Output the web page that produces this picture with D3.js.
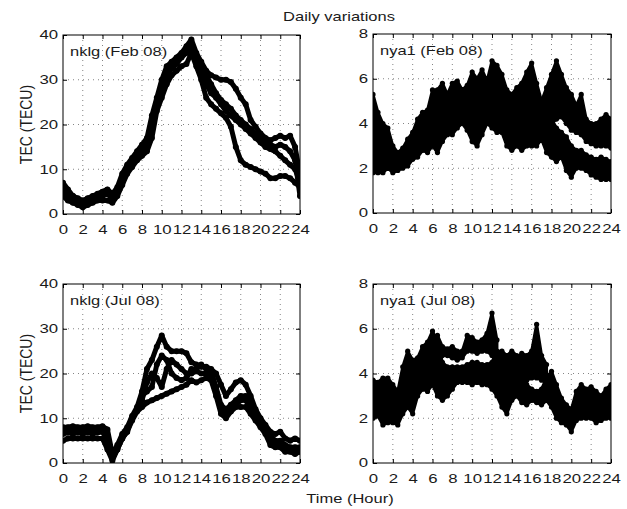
<!DOCTYPE html>
<html><head><meta charset="utf-8">
<script src="https://cdn.jsdelivr.net/npm/d3@7"></script>
<style>
body{margin:0;background:#fff}
svg{display:block}
text{font-family:"Liberation Sans",Arial,Helvetica,sans-serif;fill:#1a1a1a}
</style>
</head><body>
<svg id="c" width="627" height="509"></svg>
<script>
// ---- data ----
const hours = [0,0.5,1,1.5,2,2.5,3,3.5,4,4.5,5,5.5,6,6.5,7,7.5,8,8.5,9,9.5,10,10.5,11,11.5,12,12.5,13,13.5,14,14.5,15,15.5,16,16.5,17,17.5,18,18.5,19,19.5,20,20.5,21,21.5,22,22.5,23,23.5,24];
const xTicks = [0,2,4,6,8,10,12,14,16,18,20,22,24];
const nklgYTicks = [0,10,20,30,40];
const nyaYTicks = [0,2,4,6,8];
const panelLabels = ["nklg (Feb 08)", "nya1 (Feb 08)", "nklg (Jul 08)", "nya1 (Jul 08)"];

// nklg Feb 08 : individual days (TECU)
const nklgFebDay1 = [6,5,4,3.5,3,3.5,4,4.5,5,5.5,4.5,6,9,11,12.5,14,15.5,17,22,26,30,33,34,35,36,37.5,39,36,34,32,31,30.5,30,30,29.5,28,26,24.5,21,19.5,18,17,16.5,17,17.5,17,17.5,15,9];
const nklgFebDay2 = [4,3,2.5,2,1.5,2,2.5,3,3,3,2.5,4,6.5,9,10.5,12,13,14,17,23,26,29,31,32,33,33.5,36,33,30,26,24.5,23.5,22.5,21.5,19.5,15,12,11,10.5,10,9.5,9,8,8,8.5,8.5,8,7,6];
const nklgFebDay3 = [5,4,3,3,2.5,3,3.5,3.5,4,4.5,3.5,5,8,10,11.5,13,14.5,15.5,19,24,28,31,32.5,33.5,35,36,38,35,32,29,27,26,24.5,23,22,21,20,19,18,17,16,15,14.5,14,13,12,11,10,7];
const nklgFebDay4 = [7,5.5,4,3,2,2.5,3,4,4.5,5,3,4.5,7,9.5,11,12.5,14,16,20,25,29,32,33.5,34.5,35.5,37,37,34,32.5,31,29,27,25.5,24.5,23.5,22,21,20,19,18,17,16,15.5,15,15.5,15,14,12,4];

// nklg Jul 08 : individual days (TECU)
const nklgJulDay1 = [8,8,8.2,8,8,8.2,8,8,8.2,7.5,2,4,6.5,8,10.5,12.5,16,21,23,26,28.5,26,25,25,25,24.5,22.5,22,21.5,21.5,21,20,17.5,15,16.5,18,18.5,17.5,15,12,10,8.5,7,6.5,7,5.5,5,5.5,5];
const nklgJulDay2 = [5,5.5,5.5,5.5,5.5,5.5,5.5,5.5,5.5,3,0.5,3,5.5,7,9.5,11.5,12.5,13.5,14,14.5,15,15.5,16,16.5,17,17.5,18.5,18,18.5,19,18.5,15,11,10,11.5,12.5,12.5,12.5,11,9.5,8,6.5,4,3.5,3.5,2.5,2.5,2,2.5];
const nklgJulDay3 = [6.5,6.8,6.5,6.8,6.5,6.8,6.5,6.8,7,5,1.5,3.5,6,7.5,10,12,14,18,20,19,17,21,23,22,21,20,20,20.5,20,20,20.5,17,13,12,13,14,15,15,13,11,9,7.5,6,5,5,4,3.5,3.5,3.5];
const nklgJulDay4 = [7.5,7,7.5,7,7.5,7,7.5,7,7.5,6,1,3,5.5,7,10,12,15,16,17,22,24,23,20,19,18.5,19,21,21,22,21,19.5,16,12,11,12,13,14,14,12,10,8.5,7,5,4.5,4,3,3,3,3];

// nya1 Feb 08 : scatter bands (lower / upper edge of the dots)
const nyaFebLow1  = [1.8,1.8,1.8,2.0,1.8,1.9,2.0,2.1,2.4,2.5,2.8,2.7,3.0,2.7,3.2,3.5,3.5,3.8,4.0,3.7,3.2,3.0,3.5,4.0,3.8,3.6,3.6,3.0,2.8,3.0,2.8,3.0,3.0,3.0,3.3,2.7,2.5,2.3,2.5,1.9,1.6,2.0,2.0,1.9,1.7,1.6,1.5,1.5,1.5];
const nyaFebHigh1 = [5.3,4.5,4.0,3.8,3.0,2.7,2.9,3.3,3.6,4.2,4.5,4.6,5.5,5.5,5.8,5.3,5.8,5.9,5.5,5.7,6.3,6.0,6.4,5.9,6.8,6.6,6.2,5.5,5.3,5.6,5.8,6.3,6.7,5.8,5.0,4.6,4.2,3.8,3.6,3.4,3.0,2.8,2.8,2.6,2.5,2.4,2.5,2.4,2.3];
const nyaFebLow2  = [null,null,null,null,null,null,null,null,null,null,null,null,null,null,null,null,null,null,null,null,null,null,null,null,null,null,null,null,null,null,null,null,null,null,3.6,3.8,4.0,4.2,4.3,4.0,3.7,3.6,3.5,3.2,3.1,3.0,3.0,3.0,2.9];
const nyaFebHigh2 = [null,null,null,null,null,null,null,null,null,null,null,null,null,null,null,null,null,null,null,null,null,null,null,null,null,null,null,null,null,null,null,null,null,null,5.0,5.6,6.2,6.8,6.2,5.6,5.3,4.8,5.3,4.2,4.0,4.0,4.2,4.4,4.2];

// nya1 Jul 08 : scatter bands (lower / upper edge of the dots)
const nyaJulLow1  = [2.0,2.1,1.7,1.8,1.8,1.7,2.2,2.5,2.2,3.0,3.3,3.2,3.5,3.0,2.8,3.0,3.3,3.6,3.6,3.6,3.5,3.6,3.5,3.5,3.3,3.0,2.5,2.2,2.8,3.0,2.7,2.6,2.8,2.7,2.6,2.8,2.5,2.0,1.8,1.7,1.4,1.9,2.0,2.0,2.0,1.8,1.9,2.0,2.0];
const nyaJulHigh1 = [3.7,3.6,3.8,3.8,3.5,3.2,4.3,5.0,4.6,4.7,5.2,5.4,5.9,5.4,4.5,4.3,4.3,4.3,4.3,4.4,4.5,4.5,4.4,4.4,4.5,5.0,5.0,4.8,5.0,4.8,4.8,3.5,3.3,3.2,3.3,3.8,4.1,3.5,2.9,2.6,2.4,3.2,3.5,3.3,3.4,3.2,3.0,3.3,3.5];
const nyaJulLow2  = [null,null,null,null,null,null,null,null,null,null,null,null,null,4.6,4.8,4.8,4.7,4.6,4.7,5.0,5.0,4.9,5.0,5.0,4.8,4.5,null,null,null,null,4.2,3.7,3.8,3.8,3.7,3.6,null,null,null,null,null,null,null,null,null,null,null,null,null];
const nyaJulHigh2 = [null,null,null,null,null,null,null,null,null,null,null,null,null,5.7,5.2,5.1,5.2,5.0,5.0,5.7,5.6,5.4,5.5,5.8,6.7,5.5,null,null,null,null,4.9,4.8,5.0,6.2,4.8,4.4,null,null,null,null,null,null,null,null,null,null,null,null,null];

// ---- chart ----
const svg = d3.select('#c');
const FONT = 12.5, SX = 1.32, TICKSX = 1.4;

function stretched(parent, x, y, str, anchor, size, sx, extra) {
  return parent.append('text')
    .attr('transform', `translate(${x},${y}) scale(${sx},1)` + (extra || ''))
    .attr('text-anchor', anchor)
    .style('font-size', size + 'px')
    .text(str);
}

const panels = [
  {label: panelLabels[0], box:[63,300,35,214],  ymax:40, yticks:nklgYTicks,
   lines:[nklgFebDay1,nklgFebDay2,nklgFebDay3,nklgFebDay4], bands:[]},
  {label: panelLabels[1], box:[373,611,34,213], ymax:8, yticks:nyaYTicks,
   lines:[], bands:[[nyaFebLow1,nyaFebHigh1],[nyaFebLow2,nyaFebHigh2]]},
  {label: panelLabels[2], box:[63,300,284,463], ymax:40, yticks:nklgYTicks,
   lines:[nklgJulDay1,nklgJulDay2,nklgJulDay3,nklgJulDay4], bands:[]},
  {label: panelLabels[3], box:[373,611,284,463], ymax:8, yticks:nyaYTicks,
   lines:[], bands:[[nyaJulLow1,nyaJulHigh1],[nyaJulLow2,nyaJulHigh2]]}
];

panels.forEach((p, i) => {
  const [x0,x1,y0,y1] = p.box;
  const x = d3.scaleLinear().domain([0,24]).range([x0,x1]);
  const y = d3.scaleLinear().domain([0,p.ymax]).range([y1,y0]);
  const g = svg.append('g');

  const clipId = 'clip' + i;
  svg.append('defs').append('clipPath').attr('id', clipId)
    .append('rect').attr('x', x0).attr('y', y0).attr('width', x1-x0).attr('height', y1-y0);

  // dotted grid
  const grid = g.append('g').attr('stroke','#666').attr('stroke-width',0.8).attr('stroke-dasharray','1,4');
  grid.selectAll('line.v').data(xTicks.slice(1,-1)).join('line').attr('class','v')
    .attr('x1', d=>x(d)).attr('x2', d=>x(d)).attr('y1', y0).attr('y2', y1);
  grid.selectAll('line.h').data(p.yticks.slice(1,-1)).join('line').attr('class','h')
    .attr('x1', x0).attr('x2', x1).attr('y1', d=>y(d)).attr('y2', d=>y(d));

  const data = g.append('g').attr('clip-path', `url(#${clipId})`);

  // scatter bands
  p.bands.forEach(([lo, hi]) => {
    const pts = hours.map((h, k) => ({h, lo: lo[k], hi: hi[k]}));
    const area = d3.area().defined(d => d.lo != null && d.hi != null)
      .x(d => x(d.h)).y0(d => y(d.lo)).y1(d => y(d.hi));
    data.append('path').attr('d', area(pts))
      .attr('fill','#000').attr('stroke','#000').attr('stroke-width',3).attr('stroke-linejoin','round');
    const edge = pts.filter(d => d.lo != null);
    data.append('g').selectAll('circle').data(edge.flatMap(d => [[d.h, d.lo], [d.h, d.hi]])).join('circle')
      .attr('cx', d => x(d[0])).attr('cy', d => y(d[1])).attr('r', 2.6).attr('fill', '#000');
  });

  // daily curves
  p.lines.forEach(vals => {
    const line = d3.line().x((d,k) => x(hours[k])).y(d => y(d));
    data.append('path').attr('d', line(vals))
      .attr('fill','none').attr('stroke','#000').attr('stroke-width',5)
      .attr('stroke-linejoin','round').attr('stroke-linecap','round');
    data.append('g').selectAll('circle').data(vals).join('circle')
      .attr('cx', (d,k) => x(hours[k])).attr('cy', d => y(d)).attr('r', 3).attr('fill', '#000');
  });

  // axes
  const bottom = g.append('g').attr('transform', `translate(0,${y1})`)
    .call(d3.axisBottom(x).tickValues(xTicks).tickSizeInner(-4).tickSizeOuter(0).tickPadding(11));
  const left = g.append('g').attr('transform', `translate(${x0},0)`)
    .call(d3.axisLeft(y).tickValues(p.yticks).tickSizeInner(-4).tickSizeOuter(0).tickPadding(3.5));
  g.append('g').attr('transform', `translate(0,${y0})`)
    .call(d3.axisTop(x).tickValues(xTicks).tickSizeInner(-4).tickSizeOuter(0).tickFormat(''));
  g.append('g').attr('transform', `translate(${x1},0)`)
    .call(d3.axisRight(y).tickValues(p.yticks).tickSizeInner(-4).tickSizeOuter(0).tickFormat(''));
  g.selectAll('.domain').remove();
  g.selectAll('.tick line').attr('stroke','#000');
  [bottom, left].forEach(a => a.selectAll('text')
    .attr('transform', `scale(${TICKSX},1)`)
    .style('font-size','12px').style('font-family','"Liberation Sans",Arial,sans-serif').attr('fill','#1a1a1a'));

  g.append('rect').attr('x', x0).attr('y', y0).attr('width', x1-x0).attr('height', y1-y0)
    .attr('fill','none').attr('stroke','#000').attr('stroke-width',1);

  stretched(g, x0 + 7, y0 + 21, p.label, 'start', FONT, SX);

  if (i % 2 === 0) {
    stretched(g, 31.5, (y0+y1)/2, 'TEC (TECU)', 'middle', 14, 1.2, ' rotate(-90)');
  }
});

stretched(svg, 339, 21, 'Daily variations', 'middle', FONT, SX);
stretched(svg, 350, 503, 'Time (Hour)', 'middle', FONT, SX);
</script>
</body></html>
